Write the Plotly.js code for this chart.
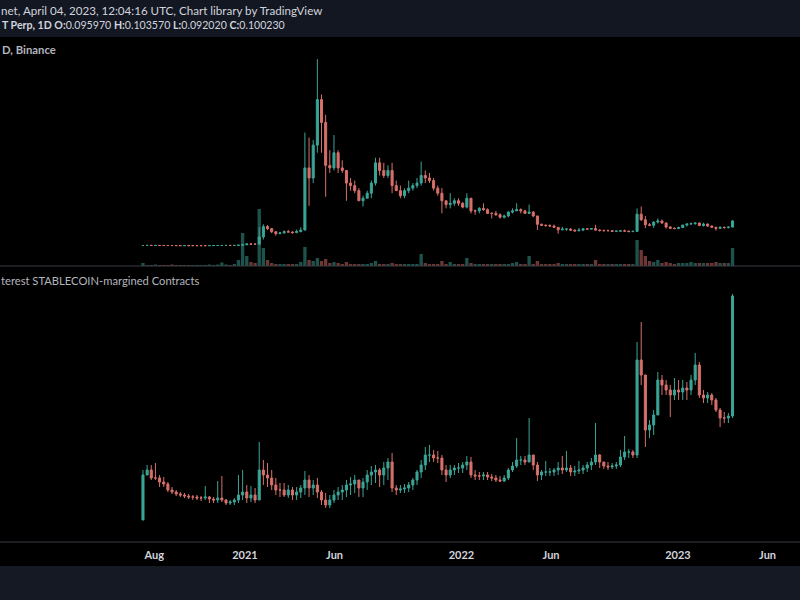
<!DOCTYPE html>
<html>
<head>
<meta charset="utf-8">
<script src="https://cdn.plot.ly/plotly-3.0.1.min.js"></script>
<style>html,body{margin:0;padding:0;background:#000;}#chart{width:800px;height:600px;}</style>
</head>
<body>
<div id="chart"></div>
<script>
// Weekly candles, first week starting 2020-07-13 (DOGEUSDT perp)
const firstWeek = '2020-07-13';
const firstPriceOpen = 0.0032;
const priceHigh = [
0.0034,0.0037,0.0038,0.0037,0.0036,0.0035,0.0034,0.0033,0.0030,0.0028,
0.0028,0.0028,0.0027,0.0027,0.0027,0.0027,0.0029,0.0031,0.0033,0.0036,
0.0037,0.0036,0.0038,0.0048,0.0062,0.0105,0.0103,0.0092,0.075,0.087,
0.0845,0.072,0.058,0.057,0.063,0.065,0.059,0.066,0.075,0.45,
0.43,0.42,0.74,0.60,0.52,0.38,0.44,0.38,0.34,0.30,
0.27,0.26,0.23,0.20,0.22,0.26,0.35,0.35,0.33,0.32,
0.33,0.26,0.24,0.23,0.26,0.25,0.27,0.335,0.30,0.29,
0.27,0.24,0.23,0.18,0.21,0.19,0.19,0.175,0.21,0.19,
0.145,0.155,0.17,0.15,0.135,0.14,0.13,0.125,0.14,0.15,
0.17,0.15,0.145,0.165,0.14,0.12,0.09,0.087,0.087,0.086,
0.076,0.077,0.072,0.072,0.067,0.072,0.071,0.072,0.072,0.085,
0.067,0.065,0.066,0.064,0.062,0.064,0.066,0.062,0.062,0.15,
0.157,0.12,0.092,0.098,0.11,0.106,0.095,0.08,0.075,0.078,
0.085,0.091,0.094,0.095,0.094,0.093,0.09,0.083,0.077,0.078,
0.078,0.078,0.1036];
const priceLow = [
0.0031,0.0031,0.0033,0.0033,0.0032,0.0031,0.0030,0.0027,0.0026,0.0025,
0.0025,0.0025,0.0025,0.0025,0.0025,0.0025,0.0025,0.0027,0.0029,0.0029,
0.0032,0.0031,0.0033,0.0035,0.0045,0.0055,0.0075,0.0074,0.0076,0.027,
0.064,0.052,0.042,0.048,0.050,0.054,0.050,0.052,0.055,0.064,
0.16,0.25,0.37,0.37,0.196,0.29,0.30,0.29,0.29,0.18,
0.22,0.21,0.18,0.157,0.19,0.19,0.24,0.28,0.27,0.27,
0.21,0.22,0.19,0.19,0.21,0.22,0.23,0.24,0.25,0.25,
0.22,0.20,0.13,0.15,0.15,0.16,0.16,0.15,0.15,0.13,
0.125,0.13,0.14,0.13,0.11,0.12,0.11,0.11,0.115,0.13,
0.14,0.13,0.13,0.13,0.115,0.065,0.08,0.077,0.078,0.073,
0.05,0.064,0.061,0.062,0.058,0.061,0.06,0.065,0.066,0.063,
0.058,0.058,0.059,0.058,0.056,0.058,0.059,0.057,0.057,0.058,
0.10,0.072,0.08,0.073,0.09,0.09,0.07,0.068,0.068,0.068,
0.073,0.078,0.084,0.085,0.08,0.078,0.077,0.072,0.062,0.069,
0.07,0.071,0.075];
const priceClose = [
0.0032,0.0036,0.0034,0.0035,0.0033,0.0032,0.0031,0.0029,0.0027,0.0026,
0.0027,0.0026,0.0026,0.0026,0.0026,0.0026,0.0028,0.0030,0.0031,0.0034,
0.0035,0.0033,0.0035,0.0045,0.0057,0.0095,0.0086,0.0085,0.037,0.078,
0.070,0.0575,0.050,0.053,0.058,0.0565,0.054,0.0585,0.064,0.31,
0.27,0.40,0.58,0.49,0.32,0.31,0.37,0.31,0.30,0.25,
0.24,0.22,0.18,0.19,0.21,0.25,0.33,0.30,0.28,0.30,
0.24,0.22,0.20,0.22,0.23,0.24,0.25,0.28,0.27,0.26,
0.23,0.21,0.18,0.165,0.17,0.18,0.17,0.155,0.19,0.14,
0.14,0.15,0.145,0.13,0.13,0.125,0.115,0.12,0.135,0.14,
0.145,0.14,0.13,0.135,0.12,0.087,0.083,0.082,0.08,0.075,
0.065,0.068,0.068,0.064,0.061,0.064,0.069,0.068,0.07,0.064,
0.063,0.062,0.062,0.059,0.06,0.061,0.06,0.058,0.059,0.127,
0.105,0.085,0.083,0.096,0.10,0.092,0.076,0.071,0.07,0.074,
0.084,0.088,0.09,0.092,0.082,0.088,0.08,0.075,0.071,0.075,
0.074,0.076,0.1002];
// volume (arbitrary units)
const volume = [
6,2,2,3,2,2,2,3,2,2,
2,2,2,2,2,2,3,2,3,7,
3,2,4,12,66,20,8,6,114,36,
12,6,4,4,4,4,4,4,8,38,
12,10,16,10,14,6,8,6,4,8,
4,4,4,4,4,6,10,4,4,4,
6,4,4,4,4,4,4,24,6,4,
4,4,10,4,8,4,4,4,16,6,
4,4,4,4,4,4,4,4,4,6,
8,4,4,20,4,10,4,4,4,4,
6,4,4,4,4,4,4,4,4,12,
4,4,4,4,4,4,4,4,4,52,
32,20,10,8,12,6,8,6,4,6,
6,6,8,6,6,6,6,6,8,6,
6,6,36];
// Open interest, stablecoin-margined contracts (billion DOGE, estimated)
const firstOiOpen = 0.05;
const oiHigh = [
2.55,2.80,2.80,2.90,2.30,2.20,1.95,1.70,1.55,1.45,
1.40,1.35,1.30,1.30,1.25,1.75,1.25,1.20,2.00,2.25,
1.10,1.05,1.15,2.30,2.55,1.80,1.75,1.65,3.95,3.05,
2.90,2.55,2.15,1.90,1.90,1.80,1.70,1.70,1.80,2.50,
2.30,2.05,2.15,1.55,1.40,1.30,1.55,1.70,1.80,2.05,
2.20,2.30,2.05,2.15,2.55,2.75,2.80,2.65,2.95,3.15,
3.40,1.80,1.80,1.85,1.95,2.15,2.55,3.05,3.70,3.80,
3.55,3.50,3.30,2.80,2.80,2.80,2.90,2.95,3.25,3.20,
2.55,2.45,2.45,2.45,2.35,2.30,2.25,2.30,2.65,2.95,
4.15,3.25,3.25,5.15,3.30,2.95,2.55,3.00,2.65,2.65,
2.95,3.25,3.50,2.80,2.75,3.00,2.80,2.95,3.15,4.90,
3.35,2.95,2.95,2.90,2.95,3.55,4.25,3.60,3.55,8.95,
9.95,7.30,5.05,5.55,7.45,7.30,7.05,6.80,7.15,7.05,
7.05,6.95,7.30,8.40,7.95,6.55,6.45,6.40,6.15,5.65,
5.45,5.40,11.35];
const oiLow = [
0.05,2.30,2.05,2.05,1.70,1.70,1.45,1.35,1.25,1.20,
1.15,1.10,1.05,1.05,1.00,1.05,0.90,0.90,0.90,0.95,
0.80,0.80,0.80,0.90,1.05,0.90,0.95,0.90,1.05,1.80,
1.70,1.55,1.30,1.20,1.20,1.15,1.05,1.05,1.15,1.30,
1.20,1.30,1.15,0.80,0.65,0.65,0.90,1.05,1.05,1.20,
1.30,1.40,1.20,1.20,1.55,1.80,1.90,1.70,1.80,2.05,
1.45,1.30,1.40,1.40,1.45,1.55,1.80,2.15,2.55,2.95,
2.95,2.90,2.30,1.95,2.15,2.30,2.40,2.40,2.55,2.15,
2.05,2.05,2.05,2.05,2.00,1.95,1.95,1.95,2.05,2.45,
2.65,2.80,2.80,2.95,2.55,2.00,2.05,2.25,2.25,2.25,
2.30,2.35,2.45,2.25,2.25,2.35,2.35,2.45,2.55,2.80,
2.65,2.60,2.55,2.60,2.60,2.70,3.05,3.15,3.15,3.15,
6.80,3.70,4.15,4.30,5.30,6.30,6.30,5.20,6.05,6.05,
6.05,6.05,6.30,6.80,6.15,5.90,5.90,5.80,5.45,4.70,
4.90,4.90,5.15];
const oiClose = [
2.30,2.55,2.15,2.15,1.95,1.85,1.55,1.45,1.35,1.30,
1.25,1.20,1.20,1.15,1.15,1.20,1.10,1.05,1.15,1.05,
0.90,0.95,1.05,1.30,1.45,1.15,1.30,1.05,2.55,2.30,
2.15,1.80,1.55,1.55,1.30,1.55,1.30,1.45,1.65,2.05,
1.65,1.80,1.45,1.05,0.80,1.05,1.30,1.45,1.55,1.80,
1.85,2.05,1.65,1.95,2.30,2.45,2.55,2.30,2.65,2.95,
1.65,1.55,1.60,1.65,1.80,2.05,2.45,2.80,3.30,3.30,
3.15,3.15,2.55,2.30,2.55,2.65,2.65,2.80,2.95,2.30,
2.25,2.25,2.30,2.20,2.15,2.05,2.00,2.15,2.55,2.75,
3.05,3.05,2.95,3.30,2.80,2.30,2.45,2.45,2.45,2.55,
2.65,2.55,2.65,2.45,2.50,2.55,2.65,2.80,2.95,3.30,
2.95,2.75,2.70,2.75,2.80,3.20,3.45,3.45,3.30,8.05,
7.30,4.55,4.80,5.30,7.05,6.80,6.55,6.30,6.55,6.45,
6.65,6.55,7.05,7.80,6.30,6.15,6.30,6.05,5.55,5.15,
5.15,5.25,11.25];
const tickDates = ['2020-08-01','2021-01-01','2021-06-01','2022-01-01','2022-06-01','2023-01-01','2023-06-01'];
const tickLabels = ['Aug','2021','Jun','2022','Jun','2023','Jun'];

// build x dates and opens
const dates = [];
const d0 = new Date(firstWeek + 'T00:00:00Z');
for (let i = 0; i < priceClose.length; i++) {
  const d = new Date(d0.getTime() + i * 7 * 86400000);
  dates.push(d.toISOString().slice(0, 10));
}
const priceOpen = priceClose.map((c, i) => i === 0 ? firstPriceOpen : priceClose[i - 1]);
const oiOpen = oiClose.map((c, i) => i === 0 ? firstOiOpen : oiClose[i - 1]);

const UP = '#3aa597', DOWN = '#d8706b';
const volColors = priceClose.map((c, i) => c >= priceOpen[i] ? 'rgba(58,165,151,0.5)' : 'rgba(216,112,107,0.5)');

const traces = [
  {type: 'bar', x: dates, y: volume, xaxis: 'x', yaxis: 'y3',
   marker: {color: volColors, line: {width: 0}}, hoverinfo: 'skip'},
  {type: 'candlestick', x: dates, open: priceOpen, high: priceHigh, low: priceLow, close: priceClose,
   xaxis: 'x', yaxis: 'y', whiskerwidth: 0,
   increasing: {line: {color: UP, width: 1}, fillcolor: UP},
   decreasing: {line: {color: DOWN, width: 1}, fillcolor: DOWN}},
  {type: 'candlestick', x: dates, open: oiOpen, high: oiHigh, low: oiLow, close: oiClose,
   xaxis: 'x2', yaxis: 'y2', whiskerwidth: 0,
   increasing: {line: {color: UP, width: 1}, fillcolor: UP},
   decreasing: {line: {color: DOWN, width: 1}, fillcolor: DOWN}}
];

const xRange = ['2019-11-14 22:48', '2023-07-25 17:00'];
const H = 600, W = 800;
const py = p => 1 - p / H;
const px = p => p / W;
const FONT = 'Lato, "Open Sans", sans-serif';

const layout = {
  width: W, height: H,
  margin: {l: 0, r: 0, t: 0, b: 0, pad: 0},
  paper_bgcolor: '#000000', plot_bgcolor: '#000000',
  showlegend: false,
  font: {family: FONT, color: '#d1d4dc', size: 12},
  xaxis: {type: 'date', range: xRange, domain: [0, 1], anchor: 'y', showgrid: false, zeroline: false,
          showticklabels: false, ticks: '', showline: false, rangeslider: {visible: false}},
  xaxis2: {type: 'date', range: xRange, domain: [0, 1], anchor: 'y2', matches: 'x', showgrid: false, zeroline: false,
           showline: false, ticks: '', tickmode: 'array', tickvals: tickDates, ticktext: tickLabels,
           ticklabelstandoff: 5,
           tickfont: {family: FONT, size: 11, color: '#d1d4dc', weight: 'bold'},
           rangeslider: {visible: false}},
  yaxis: {domain: [py(266), py(37)], range: [-0.0779, 0.8276], visible: false, fixedrange: true},
  yaxis3: {overlaying: 'y', range: [0, 458], visible: false},
  yaxis2: {domain: [py(542), py(266)], range: [-1.05, 12.75], visible: false},
  shapes: [
    {type: 'rect', xref: 'paper', yref: 'paper', x0: 0, x1: 1, y0: py(37), y1: 1, fillcolor: '#131722', line: {width: 0}, layer: 'below'},
    {type: 'rect', xref: 'paper', yref: 'paper', x0: 0, x1: 1, y0: 0, y1: py(566), fillcolor: '#151924', line: {width: 0}, layer: 'below'},
    {type: 'line', xref: 'paper', yref: 'paper', x0: 0, x1: 1, y0: py(266), y1: py(266), line: {color: '#3a3d45', width: 1}},
    {type: 'line', xref: 'paper', yref: 'paper', x0: 0, x1: 1, y0: py(542), y1: py(542), line: {color: '#3a3d45', width: 1}}
  ],
  annotations: [
    {xref: 'paper', yref: 'paper', x: px(-1), y: py(10), xanchor: 'left', yanchor: 'middle', showarrow: false,
     text: 'net, April 04, 2023, 12:04:16 UTC, Chart library by TradingView', font: {size: 11.6, color: '#d1d4dc'}},
    {xref: 'paper', yref: 'paper', x: px(0), y: py(25), xanchor: 'left', yanchor: 'middle', showarrow: false,
     text: '<b>T Perp, 1D O:</b>0.095970 <b>H:</b>0.103570 <b>L:</b>0.092020 <b>C:</b>0.100230', font: {size: 10.6, color: '#d1d4dc'}},
    {xref: 'paper', yref: 'paper', x: px(0), y: py(49), xanchor: 'left', yanchor: 'middle', showarrow: false,
     text: '<b>D, Binance</b>', font: {size: 11.3, color: '#b2b5be'}},
    {xref: 'paper', yref: 'paper', x: px(-1), y: py(280), xanchor: 'left', yanchor: 'middle', showarrow: false,
     text: 'terest STABLECOIN-margined Contracts', font: {size: 11.2, color: '#b2b5be'}}
  ]
};

Plotly.newPlot('chart', traces, layout, {staticPlot: true, displayModeBar: false});
</script>
</body>
</html>
